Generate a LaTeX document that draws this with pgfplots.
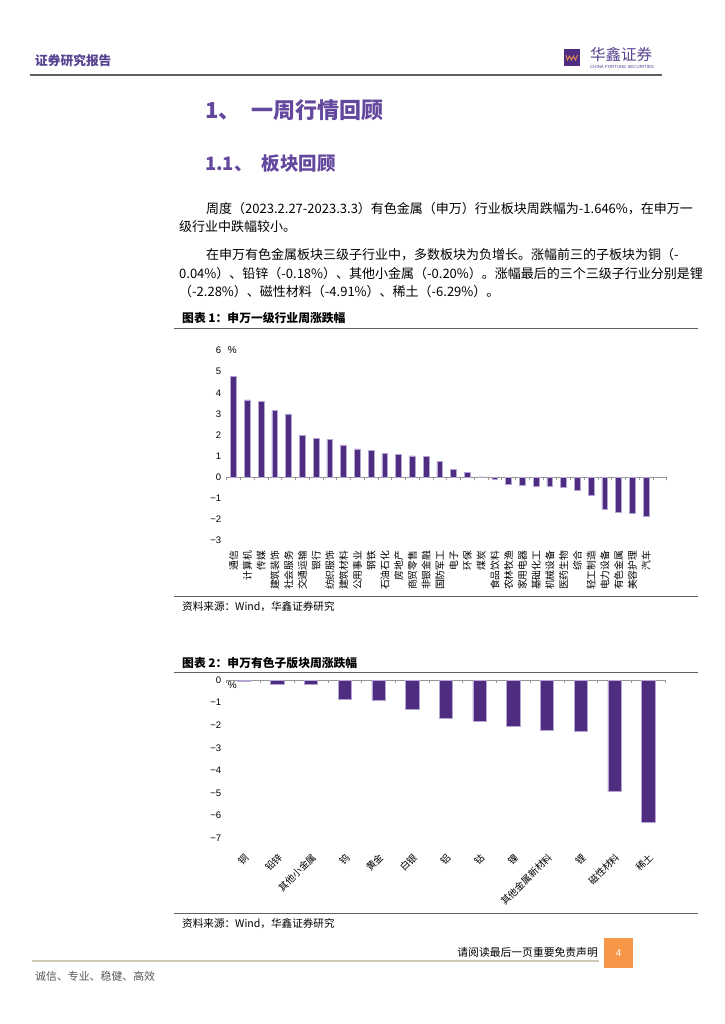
\documentclass[border=0pt]{standalone}
\usepackage{pgfplots}
\pgfplotsset{compat=1.18}
\usepackage{fontspec}
\setmainfont{Noto Sans CJK SC}
\newfontfamily\arial{Liberation Sans}
\XeTeXlinebreaklocale "zh"
\XeTeXlinebreakskip=0pt plus 3pt minus 0.6pt

\definecolor{barpurple}{RGB}{78,44,128}
\definecolor{baredge}{RGB}{180,165,212}
\definecolor{titlepurple}{RGB}{100,72,158}
\definecolor{hdpurple}{RGB}{88,66,146}
\definecolor{logoorange}{RGB}{247,150,70}
\definecolor{rulegrey}{RGB}{96,96,96}
\definecolor{axisgrey}{RGB}{150,150,150}
\definecolor{foottan}{RGB}{205,200,180}

\newcommand{\fs}[1]{\fontsize{#1}{#1}\selectfont}

\pgfplotsset{
  pagebars/.style={
    scale only axis, anchor=south west,
    axis x line=middle, axis y line=left,
    hide obscured x ticks=false, hide obscured y ticks=false,
    x axis line style={-, draw=axisgrey, line width=0.7pt},
    y axis line style={draw=none},
    major x tick style={draw=none},
    major y tick style={draw=none},
    minor x tick style={draw=axisgrey, line width=0.7pt},
    minor tick length=3pt, tick align=inside,
    yticklabel style={font=\arial\fs{9.5}, xshift=-2pt},
    ybar, clip=false,
  },
}

\begin{document}
\begin{tikzpicture}
\path[use as bounding box, fill=white] (0pt,0pt) rectangle (724pt,-1024pt);

% header
\node[anchor=west, inner sep=0, text=hdpurple] at (35pt,-61pt) {\fs{12.7}\bfseries 证券研究报告};
\fill[barpurple] (564pt,-49pt) rectangle (580pt,-66pt);
\draw[logoorange, line width=0.8pt] (566pt,-55pt) -- (567.5pt,-60pt) -- (569.5pt,-56pt) -- (571.5pt,-60pt) -- (573.5pt,-56pt) -- (575.5pt,-60pt) -- (577.5pt,-55pt);
\node[anchor=west, inner sep=0, text=hdpurple] at (590pt,-55pt) {\fs{15.5}华鑫证券};
\node[anchor=west, inner sep=0, text=hdpurple] at (590pt,-66.5pt) {\arial\fs{4.4}CHINA FORTUNE SECURITIES};
\draw[rulegrey, line width=1.2pt] (30pt,-75pt) -- (662pt,-75pt);

% titles
\node[anchor=west, inner sep=0, text=titlepurple] at (205pt,-110.7pt) {\fs{22}\bfseries 1、\hspace{0.5em}一周行情回顾};
\node[anchor=west, inner sep=0, text=titlepurple] at (205pt,-163.3pt) {\fs{18.5}\bfseries 1.1、\hspace{0.5em}板块回顾};

% body
\node[anchor=west, inner sep=0] at (206pt,-208.3pt) {\fs{13}\makebox[485pt][s]{周度（2023.2.27-2023.3.3）有色金属（申万）行业板块周跌幅为-1.646\%，在申万一}};
\node[anchor=west, inner sep=0] at (179pt,-226.7pt) {\fs{13}级行业中跌幅较小。};
\node[anchor=west, inner sep=0] at (206pt,-255pt) {\fs{13}\makebox[485pt][s]{在申万有色金属板块三级子行业中，多数板块为负增长。涨幅前三的子板块为铜（-}};
\node[anchor=west, inner sep=0] at (179pt,-273.3pt) {\fs{13}\makebox[512pt][s]{0.04\%）、铅锌（-0.18\%）、其他小金属（-0.20\%）。涨幅最后的三个三级子行业分别是锂}};
\node[anchor=west, inner sep=0] at (179pt,-291.7pt) {\fs{13}（-2.28\%）、磁性材料（-4.91\%）、稀土（-6.29\%）。};

% chart 1 caption and rules
\node[anchor=west, inner sep=0] at (182pt,-318.3pt) {\fs{11.8}\bfseries 图表 1：申万一级行业周涨跌幅};
\draw[rulegrey, line width=1.1pt] (174pt,-328.3pt) -- (698pt,-328.3pt);
\draw[rulegrey, line width=1.1pt] (174pt,-596.7pt) -- (698pt,-596.7pt);
\node[anchor=west, inner sep=0] at (182pt,-606.7pt) {\fs{10.6}资料来源：Wind，华鑫证券研究};

\begin{axis}[pagebars,
  at={(226.7pt,-540.7pt)}, width=440pt, height=190.2pt,
  xmin=-0.5, xmax=31.5, ymin=-3, ymax=6,
  ytick={-3,...,6}, yticklabels={−3,−2,−1,0,1,2,3,4,5,6},
  xtick={0,...,30}, minor xtick={-0.5,0.5,...,31.5},
  xticklabels={通信,计算机,传媒,建筑装饰,社会服务,交通运输,银行,纺织服饰,建筑材料,公用事业,钢铁,石油石化,房地产,商贸零售,非银金融,国防军工,电子,环保,煤炭,食品饮料,农林牧渔,家用电器,基础化工,机械设备,医药生物,综合,轻工制造,电力设备,有色金属,美容护理,汽车},
  xticklabel style={font=\fs{9.8}, yshift=-68pt, rotate=90, anchor=east, inner sep=1pt},
  bar width=5.7pt,
]
\addplot[fill=barpurple, draw=baredge, line width=0.5pt] coordinates {
(0,4.76) (1,3.66) (2,3.61) (3,3.17) (4,3.00) (5,1.99) (6,1.85) (7,1.80)
(8,1.53) (9,1.34) (10,1.26) (11,1.12) (12,1.10) (13,1.01) (14,0.98) (15,0.77)
(16,0.39) (17,0.24) (18,0.02) (19,-0.08) (20,-0.35) (21,-0.36) (22,-0.41) (23,-0.43)
(24,-0.47) (25,-0.63) (26,-0.85) (27,-1.51) (28,-1.65) (29,-1.72) (30,-1.86)};
\node[anchor=west, inner sep=1pt, font=\arial\fs{10}] at (rel axis cs:0,1) {\%};
\end{axis}

% chart 2 caption and rules
\node[anchor=west, inner sep=0] at (182pt,-663.3pt) {\fs{11.8}\bfseries 图表 2：申万有色子版块周涨跌幅};
\draw[rulegrey, line width=1.1pt] (174pt,-672.3pt) -- (698pt,-672.3pt);
\draw[rulegrey, line width=1.1pt] (174pt,-913.3pt) -- (698pt,-913.3pt);
\node[anchor=west, inner sep=0] at (182pt,-923.3pt) {\fs{10.6}资料来源：Wind，华鑫证券研究};

\begin{axis}[pagebars,
  at={(226.7pt,-838.3pt)}, width=438.3pt, height=158.3pt,
  xmin=-0.5, xmax=12.5, ymin=-7, ymax=0,
  ytick={-7,...,0}, yticklabels={−7,−6,−5,−4,−3,−2,−1,0},
  xtick={0,...,12}, minor xtick={-0.5,0.5,...,12.5},
  xticklabels={铜,铅锌,其他小金属,钨,黄金,白银,铝,钴,镍,其他金属新材料,锂,磁性材料,稀土},
  xticklabel style={font=\fs{9.6}, yshift=-171pt, xshift=3.5pt, rotate=45, anchor=east, inner sep=0.5pt},
  bar width=13.3pt,
]
\addplot[fill=barpurple, draw=baredge, line width=0.5pt] coordinates {
(0,-0.04) (1,-0.18) (2,-0.20) (3,-0.83) (4,-0.91) (5,-1.30) (6,-1.67)
(7,-1.81) (8,-2.05) (9,-2.21) (10,-2.28) (11,-4.91) (12,-6.29)};
\node[anchor=north west, inner sep=1pt, font=\arial\fs{10}] at (rel axis cs:0,1) {\%};
\end{axis}

% footer
\node[anchor=east, inner sep=0] at (598pt,-952.7pt) {\fs{10.8}请阅读最后一页重要免责声明};
\fill[logoorange] (604pt,-938pt) rectangle (633.4pt,-968pt);
\node[text=white, font=\arial\fs{10}] at (618.7pt,-953pt) {4};
\draw[foottan, line width=1.2pt] (32pt,-961pt) -- (599pt,-961pt);
\node[anchor=west, inner sep=0, text=black!65] at (35pt,-976pt) {\fs{10.9}诚信、专业、稳健、高效};
\end{tikzpicture}
\end{document}
